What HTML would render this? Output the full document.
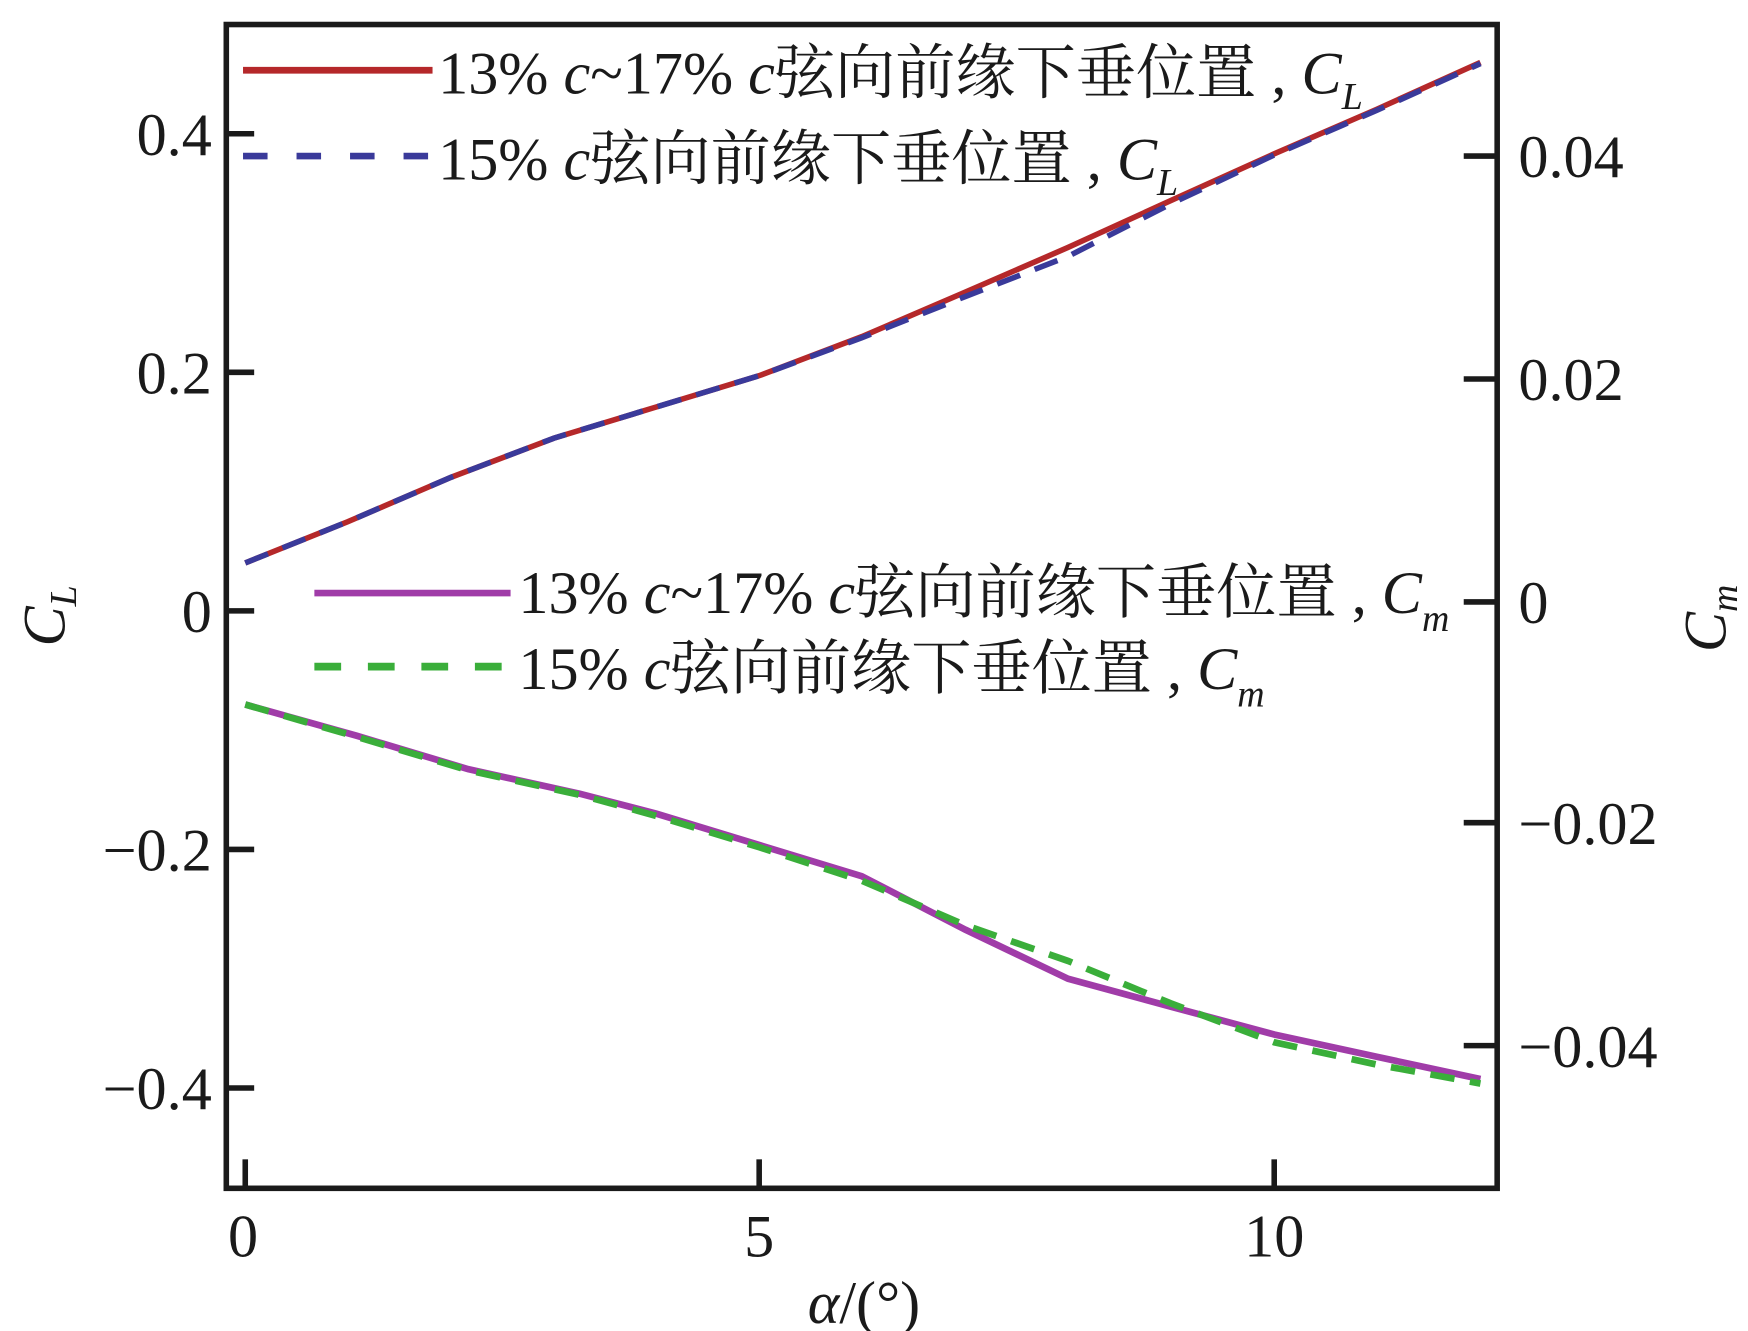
<!DOCTYPE html>
<html><head><meta charset="utf-8"><style>
html,body{margin:0;padding:0;background:#fff;}
svg{display:block;}
text{font-family:"Liberation Serif","Noto Serif CJK SC","Noto Sans CJK SC",serif;fill:#1a1a1a;}
</style></head><body>
<svg width="1748" height="1331" viewBox="0 0 1568 1194" preserveAspectRatio="none" xmlns="http://www.w3.org/2000/svg">
<rect x="0" y="0" width="1568" height="1194" fill="#fff"/>
<!-- curves -->
<polyline fill="none" stroke="#b5282a" stroke-width="5" points="220,505 312,468 405,428 497,393 589,365 681,337 773,302 866,262 958,222 1050,180 1143,138 1235,98 1328,56"/>
<polyline fill="none" stroke="#3a3a9a" stroke-width="5" stroke-dasharray="22,14" points="220,505 312,468 405,428 497,393 589,365 681,337 773,303 866,266 958,230 1050,183 1143,139 1235,99 1328,57"/>
<polyline fill="none" stroke="#a03ca8" stroke-width="6" points="220,632 320,660 420,690 520,712 589,730 681,758 773,786 866,834 958,878 1050,903 1143,928 1235,948 1328,968"/>
<polyline fill="none" stroke="#3aae3a" stroke-width="6" stroke-dasharray="22,14" points="220,632 320,661 420,691 520,713 589,732 681,760 773,790 866,830 958,862 1050,900 1143,935 1235,955 1328,972"/>
<!-- box -->
<rect x="203" y="22" width="1140" height="1044" fill="none" stroke="#1a1a1a" stroke-width="5"/>
<g stroke="#1a1a1a" stroke-width="5">
<line x1="203" y1="120" x2="228" y2="120"/><line x1="203" y1="334" x2="228" y2="334"/><line x1="203" y1="548" x2="228" y2="548"/><line x1="203" y1="762" x2="228" y2="762"/><line x1="203" y1="976" x2="228" y2="976"/>
<line x1="1343" y1="140" x2="1313" y2="140"/><line x1="1343" y1="340" x2="1313" y2="340"/><line x1="1343" y1="540" x2="1313" y2="540"/><line x1="1343" y1="738" x2="1313" y2="738"/><line x1="1343" y1="938" x2="1313" y2="938"/>
<line x1="220" y1="1066" x2="220" y2="1040"/><line x1="681" y1="1066" x2="681" y2="1040"/><line x1="1143" y1="1066" x2="1143" y2="1040"/>
</g>
<g font-size="54" text-anchor="end">
<text x="190" y="139">0.4</text><text x="190" y="353">0.2</text><text x="190" y="567">0</text><text x="190" y="781">−0.2</text><text x="190" y="995">−0.4</text>
</g>
<g font-size="54">
<text x="1362" y="159">0.04</text><text x="1362" y="359">0.02</text><text x="1362" y="559">0</text><text x="1362" y="757">−0.02</text><text x="1362" y="957">−0.04</text>
</g>
<g font-size="54" text-anchor="middle">
<text x="218" y="1127">0</text><text x="681" y="1127">5</text><text x="1143" y="1127">10</text>
<text x="775" y="1187"><tspan font-style="italic">α</tspan>/(°)</text>
</g>
<text font-size="54" font-style="italic" transform="translate(58,580) rotate(-90)">C<tspan font-size="34" dy="10">L</tspan></text>
<text font-size="54" font-style="italic" transform="translate(1548,585) rotate(-90)">C<tspan font-size="34" dy="10">m</tspan></text>
<!-- legends -->
<line x1="218" y1="63" x2="388" y2="63" stroke="#b5282a" stroke-width="6"/>
<line x1="218" y1="140" x2="388" y2="140" stroke="#3a3a9a" stroke-width="6" stroke-dasharray="22,26"/>
<g font-size="54">
<text x="393" y="84">13% <tspan font-style="italic">c</tspan>~17% <tspan font-style="italic">c</tspan>弦向前缘下垂位置 , <tspan font-style="italic">C</tspan><tspan font-style="italic" font-size="34" dy="14">L</tspan></text>
<text x="393" y="161">15% <tspan font-style="italic">c</tspan>弦向前缘下垂位置 , <tspan font-style="italic">C</tspan><tspan font-style="italic" font-size="34" dy="14">L</tspan></text>
</g>
<line x1="282" y1="532" x2="458" y2="532" stroke="#a03ca8" stroke-width="6"/>
<line x1="282" y1="598" x2="458" y2="598" stroke="#3aae3a" stroke-width="7" stroke-dasharray="24,24"/>
<g font-size="54">
<text x="465" y="550">13% <tspan font-style="italic">c</tspan>~17% <tspan font-style="italic">c</tspan>弦向前缘下垂位置 , <tspan font-style="italic">C</tspan><tspan font-style="italic" font-size="34" dy="16">m</tspan></text>
<text x="465" y="618">15% <tspan font-style="italic">c</tspan>弦向前缘下垂位置 , <tspan font-style="italic">C</tspan><tspan font-style="italic" font-size="34" dy="16">m</tspan></text>
</g>
</svg>
</body></html>
